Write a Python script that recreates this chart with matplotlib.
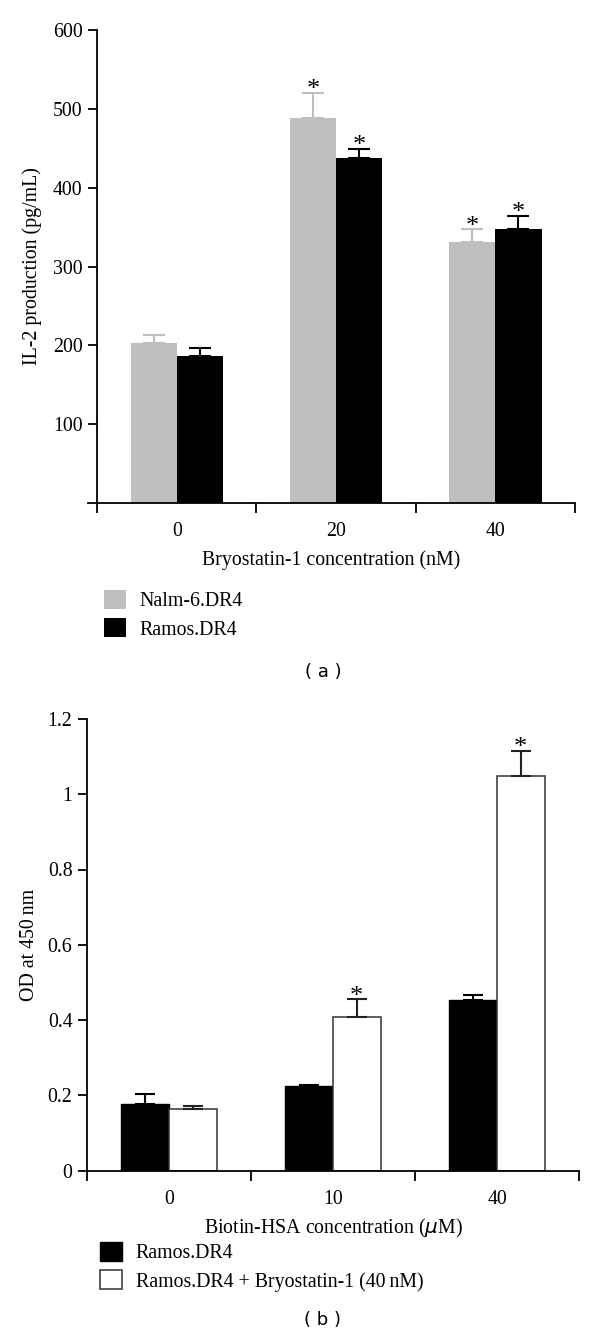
import numpy as np
import matplotlib
matplotlib.use("Agg")
import matplotlib.pyplot as plt

plt.rcParams['font.family'] = ['Liberation Serif', 'DejaVu Serif']

# panel (a): IL-2 production
conc_a = ['0', '20', '40']
nalm_vals = [203, 488, 331]
nalm_err = [10, 32, 16]
ramos_vals = [187, 437, 348]
ramos_err = [10, 12, 16]
nalm_star = [False, True, True]
ramos_star = [False, True, True]

# panel (b): OD at 450 nm
conc_b = ['0', '10', '40']
ramos_b_vals = [0.176, 0.224, 0.453]
ramos_b_err = [0.027, 0.002, 0.013]
bryo_b_vals = [0.163, 0.408, 1.048]
bryo_b_err = [0.009, 0.047, 0.067]
bryo_b_star = [False, True, True]

W, H = 600, 1337
fig = plt.figure(figsize=(W / 100, H / 100), dpi=100)

def frac(x0, x1, ytop, ybot):
    return [x0 / W, 1 - ybot / H, (x1 - x0) / W, (ybot - ytop) / H]

GRAY = '#bfbfbf'
BW = 0.29
FS = 14.3


def style_axes(ax, cats, xlab, ylab, left_x, ylab_x):
    ax.spines['top'].set_visible(False)
    ax.spines['right'].set_visible(False)
    ax.spines['left'].set_position(('data', left_x))
    for s in ['left', 'bottom']:
        ax.spines[s].set_linewidth(1.3)
    ax.set_xticks([-0.5, 0.5, 1.5, 2.5])
    ax.set_xticklabels([])
    ax.set_xticks([0, 1, 2], minor=True)
    ax.set_xticklabels(cats, minor=True, fontsize=FS)
    ax.tick_params(axis='x', which='major', direction='out', length=7, width=1.3)
    ax.tick_params(axis='x', which='minor', length=0, pad=14)
    ax.tick_params(axis='y', direction='out', length=6.5, width=1.3, labelsize=FS, pad=4)
    ax.set_xlabel(xlab, fontsize=FS, labelpad=6)
    ax.set_ylabel(ylab, fontsize=FS)
    ax.yaxis.set_label_coords(ylab_x, 0.5)


def stars(ax, x, vals, errs, flags, dy):
    for xi, v, e, f in zip(x, vals, errs, flags):
        if f:
            ax.annotate('*', (xi, v + e), xytext=(0, dy), textcoords='offset points',
                        ha='center', va='bottom', fontsize=19)


# ---- (a)
ax1 = fig.add_axes(frac(88, 575, 30, 503))
x = np.arange(len(conc_a))
ax1.bar(x - BW / 2, nalm_vals, BW, color=GRAY, label='Nalm-6.DR4')
ax1.bar(x + BW / 2, ramos_vals, BW, color='black', label='Ramos.DR4')
ax1.errorbar(x - BW / 2, nalm_vals, yerr=[np.zeros(3), nalm_err], fmt='none',
             ecolor=GRAY, elinewidth=1.5, capsize=8, capthick=1.5)
ax1.errorbar(x + BW / 2, ramos_vals, yerr=[np.zeros(3), ramos_err], fmt='none',
             ecolor='black', elinewidth=1.5, capsize=8, capthick=1.5)
stars(ax1, x - BW / 2, nalm_vals, nalm_err, nalm_star, -6)
stars(ax1, x + BW / 2, ramos_vals, ramos_err, ramos_star, -6)
ax1.set_xlim(-0.557, 2.5)
ax1.set_ylim(0, 600)
ax1.set_yticks([100, 200, 300, 400, 500, 600])
style_axes(ax1, conc_a, 'Bryostatin-1 concentration (nM)', 'IL-2 production (pg/mL)',
           -0.5, (42 - 88) / 487)
ax1.legend(loc='upper left', bbox_to_anchor=(104 / W, 1 - 590 / H),
           bbox_transform=fig.transFigure, frameon=False, fontsize=FS,
           handlelength=1.1, handleheight=1.1, handletextpad=0.7, labelspacing=0.35,
           borderpad=0, borderaxespad=0)
fig.text(323 / W, 1 - 672 / H, '( a )', ha='center', va='center',
         fontsize=13, family='DejaVu Sans')

# ---- (b)
ax2 = fig.add_axes(frac(87, 579, 719, 1170.5))
x = np.arange(len(conc_b))
ax2.bar(x - BW / 2, ramos_b_vals, BW, color='black', edgecolor='black', linewidth=1,
        label='Ramos.DR4')
ax2.bar(x + BW / 2, bryo_b_vals, BW, color='white', edgecolor='#333333', linewidth=1.1,
        label='Ramos.DR4 + Bryostatin-1 (40\u2009nM)')
ax2.errorbar(x - BW / 2, ramos_b_vals, yerr=[np.zeros(3), ramos_b_err], fmt='none',
             ecolor='black', elinewidth=1.5, capsize=7, capthick=1.5)
ax2.errorbar(x + BW / 2, bryo_b_vals, yerr=[np.zeros(3), bryo_b_err], fmt='none',
             ecolor='#222222', elinewidth=1.5, capsize=7, capthick=1.5)
stars(ax2, x + BW / 2, bryo_b_vals, bryo_b_err, bryo_b_star, -6)
ax2.set_xlim(-0.5, 2.5)
ax2.set_ylim(0, 1.2)
ax2.set_yticks([0, 0.2, 0.4, 0.6, 0.8, 1.0, 1.2])
ax2.set_yticklabels(['0', '0.2', '0.4', '0.6', '0.8', '1', '1.2'])
style_axes(ax2, conc_b, r'Biotin-HSA concentration ($\mu$M)', 'OD at 450\u2009nm',
           -0.5, (39 - 87) / 492)
ax2.legend(loc='upper left', bbox_to_anchor=(100 / W, 1 - 1242 / H),
           bbox_transform=fig.transFigure, frameon=False, fontsize=FS,
           handlelength=1.1, handleheight=1.1, handletextpad=0.7, labelspacing=0.35,
           borderpad=0, borderaxespad=0)
fig.text(322 / W, 1 - 1320 / H, '( b )', ha='center', va='center',
         fontsize=13, family='DejaVu Sans')

fig.savefig('out.png', dpi=100, facecolor='white')
